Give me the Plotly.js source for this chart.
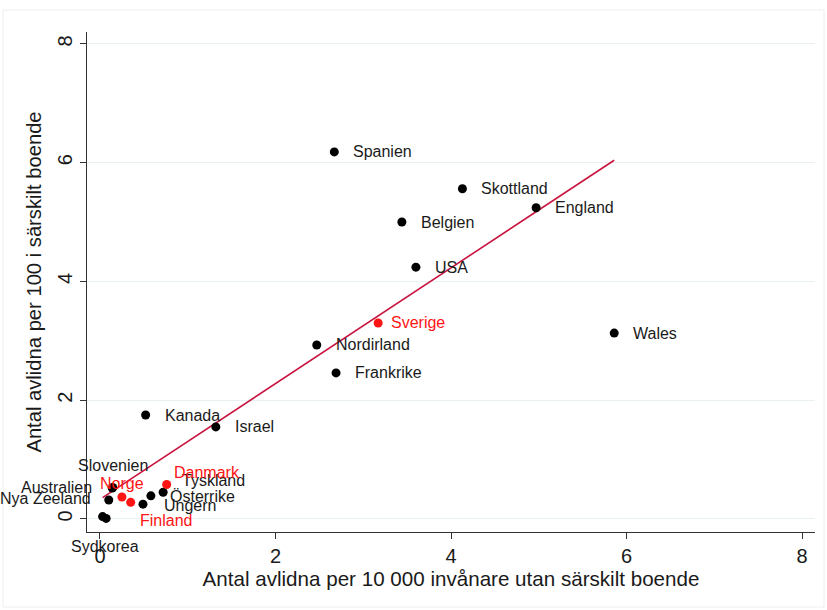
<!DOCTYPE html>
<html>
<head>
<meta charset="utf-8">
<script src="https://cdn.plot.ly/plotly-3.0.1.min.js"></script>
<style>
  html, body { margin: 0; padding: 0; background: #ffffff; }
  #chart { width: 827px; height: 610px; }
</style>
</head>
<body>
<div id="chart"></div>
<script>
// ---- Data ----
const countries = ['Spanien','Skottland','England','Belgien','USA','Sverige','Wales','Nordirland','Frankrike','Kanada','Israel','Slovenien','Australien','Nya Zeeland','Sydkorea','','Norge','Finland','Ungern','Österrike','Tyskland','Danmark'];
const xValues = [2.67, 4.13, 4.97, 3.44, 3.60, 3.17, 5.86, 2.47, 2.69, 0.52, 1.32, 0.145, 0.14, 0.10, 0.03, 0.07, 0.25, 0.35, 0.49, 0.58, 0.72, 0.76];
const yValues = [6.18, 5.56, 5.24, 5.00, 4.24, 3.30, 3.13, 2.93, 2.46, 1.75, 1.55, 0.53, 0.52, 0.32, 0.04, 0.01, 0.37, 0.28, 0.25, 0.39, 0.45, 0.58];
const nordic = ['Sverige','Norge','Finland','Danmark'];
const fitX = [0.03, 5.86];
const fitY = [0.36, 6.04];
const xTicks = [0, 2, 4, 6, 8];
const yTicks = [0, 2, 4, 6, 8];
const xTitle = 'Antal avlidna per 10 000 invånare utan särskilt boende';
const yTitle = 'Antal avlidna per 100 i särskilt boende';

// ---- Styles ----
const BLACK = '#000000';
const RED = '#ff1414';
const LABEL_BLACK = '#1a1a1a';
const FONT = 'Liberation Sans, Arial, sans-serif';
// label placement (pixel offsets from the marker), like Stata clock positions
const labelPos = {
  'Sverige':     {dx: 11, dy: 0, xa: 'left'},
  'Slovenien':   {dx: 0, dy: 22, xa: 'center'},
  'Australien':  {dx: -18, dy: 1, xa: 'right'},
  'Nya Zeeland': {dx: -16, dy: 1, xa: 'right'},
  'Sydkorea':    {dx: 2, dy: -30, xa: 'center'},
  'Norge':       {dx: 0, dy: 14, xa: 'center'},
  'Finland':     {dx: 7, dy: -18, xa: 'left'},
  'Ungern':      {dx: 19, dy: -1, xa: 'left'},
  'Österrike':   {dx: 17, dy: -1, xa: 'left'},
  'Tyskland':    {dx: 17, dy: 12, xa: 'left'},
  'Danmark':     {dx: 5, dy: 12, xa: 'left'}
};
const defaultPos = {dx: 17, dy: 0, xa: 'left'};

const colors = countries.map(c => nordic.includes(c) ? RED : BLACK);

const points = {
  type: 'scatter',
  mode: 'markers',
  x: xValues,
  y: yValues,
  marker: {color: colors, size: 9, line: {width: 0}},
  hoverinfo: 'text',
  text: countries,
  showlegend: false
};

const fit = {
  type: 'scatter',
  mode: 'lines',
  x: fitX,
  y: fitY,
  line: {color: '#c8143f', width: 1.6},
  hoverinfo: 'skip',
  showlegend: false
};

const annotations = countries.map((c, i) => {
  if (!c) return null;
  const p = labelPos[c] || defaultPos;
  return {
    x: xValues[i], y: yValues[i], xref: 'x', yref: 'y',
    text: c, showarrow: false,
    xanchor: p.xa, yanchor: 'middle',
    xshift: p.dx, yshift: p.dy,
    font: {family: FONT, size: 16, color: nordic.includes(c) ? RED : LABEL_BLACK}
  };
}).filter(a => a);

const layout = {
  width: 827, height: 610,
  margin: {l: 87, r: 12, t: 32, b: 78, pad: 0},
  paper_bgcolor: '#ffffff',
  plot_bgcolor: '#ffffff',
  font: {family: FONT, color: '#1a1a1a'},
  xaxis: {
    range: [-0.148, 8.148],
    tickvals: xTicks,
    ticktext: xTicks.map(String),
    ticks: 'outside', ticklen: 6, tickwidth: 1, tickcolor: '#333333',
    showline: true, linecolor: '#333333', linewidth: 1,
    showgrid: false, zeroline: false,
    tickfont: {family: FONT, size: 20, color: '#1a1a1a'},
    title: {text: xTitle, font: {family: FONT, size: 20.6, color: '#1a1a1a'}, standoff: 2}
  },
  yaxis: {
    range: [-0.219, 8.199],
    tickvals: yTicks,
    ticktext: yTicks.map(String),
    tickangle: -90,
    ticks: 'outside', ticklen: 6, tickwidth: 1, tickcolor: '#333333',
    showline: true, linecolor: '#333333', linewidth: 1,
    showgrid: true, gridcolor: '#e8f0f2', gridwidth: 1,
    zeroline: false,
    tickfont: {family: FONT, size: 20, color: '#1a1a1a'},
    title: {text: yTitle, font: {family: FONT, size: 20.2, color: '#1a1a1a'}, standoff: 6}
  },
  annotations: annotations,
  shapes: [{
    type: 'rect', xref: 'paper', yref: 'paper',
    x0: -0.1154, x1: 1.0124, y0: -0.15, y1: 1.044,
    line: {color: '#eeeeee', width: 1}, layer: 'below'
  }]
};

Plotly.newPlot('chart', [fit, points], layout, {displayModeBar: false, staticPlot: true});
</script>
</body>
</html>
